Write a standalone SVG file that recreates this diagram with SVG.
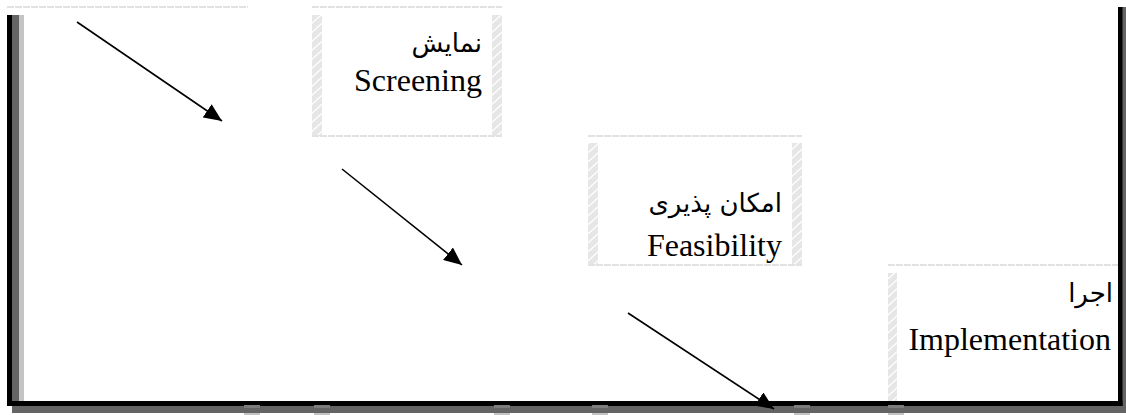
<svg xmlns="http://www.w3.org/2000/svg" width="1126" height="415" viewBox="0 0 1126 415">
<style>
.edge{stroke:#e2e2e2;stroke-width:2;stroke-dasharray:7 1;fill:none}
.hatch{fill:url(#hp)}
.en{font-family:"Liberation Serif","Times New Roman",serif;font-size:32px;fill:#000;text-anchor:end}
.fa{font-family:"DejaVu Sans","Liberation Serif",sans-serif;font-size:26px;fill:#000;text-anchor:end}
.conn{stroke:#000;stroke-width:1.6;fill:none;marker-end:url(#ah)}
.blk{fill:#000}
.dk{fill:#646464}
.lt{fill:#c4c4c4}
.pt{fill:#7c7c7c}
</style>
<defs>
<pattern id="hp" patternUnits="userSpaceOnUse" width="10" height="9">
<rect width="10" height="9" fill="#e6e6e6"/>
<path d="M-2,9 L10,-2 M-2,18 L10,7" stroke="#ffffff" stroke-width="1.3"/>
</pattern>
<marker id="ah" markerUnits="userSpaceOnUse" markerWidth="20" markerHeight="16" refX="18" refY="8" orient="auto">
<path d="M0,0 L18,8 L0,16 Z" fill="#000"/>
</marker>
</defs>
<rect width="1126" height="415" fill="#fff"/>

<g id="node-start">
<line class="edge" x1="7" y1="7" x2="248" y2="7"/>
</g>

<g id="node-screening">
<line class="edge" x1="312" y1="7" x2="502" y2="7"/>
<rect class="hatch" x="312" y="15" width="10" height="121"/>
<rect class="hatch" x="492" y="15" width="10" height="121"/>
<line class="edge" x1="312" y1="136" x2="502" y2="136"/>
<text class="fa" x="482" y="52">نمایش</text>
<text class="en" x="482" y="91">Screening</text>
</g>

<g id="node-feasibility">
<line class="edge" x1="588" y1="136" x2="802" y2="136"/>
<rect class="hatch" x="588" y="143" width="10" height="122"/>
<rect class="hatch" x="792" y="143" width="10" height="122"/>
<line class="edge" x1="588" y1="265" x2="802" y2="265"/>
<text class="fa" x="782" y="212">امکان پذیری</text>
<text class="en" x="782" y="256">Feasibility</text>
</g>

<g id="node-implementation">
<line class="edge" x1="888" y1="265" x2="1118" y2="265"/>
<rect class="hatch" x="888" y="273" width="9" height="128"/>
<text class="fa" x="1113" y="302">اجرا</text>
<text class="en" x="1111" y="350">Implementation</text>
</g>

<g id="frame">
<rect class="lt" x="19" y="15" width="5" height="386"/>
<rect class="dk" x="12" y="15" width="7" height="398"/>
<rect class="blk" x="7" y="15" width="5" height="391"/>
<rect class="dk" x="1122" y="7" width="4" height="406"/>
<rect class="blk" x="1118" y="7" width="4.5" height="399"/>
<rect class="dk" x="12" y="406" width="1114" height="7"/>
<rect class="blk" x="7" y="401" width="1115.5" height="5"/>
<g>
<rect class="pt" x="244" y="405" width="16" height="3"/><rect class="lt" x="244" y="413" width="16" height="2"/>
<rect class="pt" x="314" y="405" width="16" height="3"/><rect class="lt" x="314" y="413" width="16" height="2"/>
<rect class="pt" x="494" y="405" width="16" height="3"/><rect class="lt" x="494" y="413" width="16" height="2"/>
<rect class="pt" x="592" y="405" width="16" height="3"/><rect class="lt" x="592" y="413" width="16" height="2"/>
<rect class="pt" x="794" y="405" width="16" height="3"/><rect class="lt" x="794" y="413" width="16" height="2"/>
<rect class="pt" x="888" y="405" width="16" height="3"/><rect class="lt" x="888" y="413" width="16" height="2"/>
</g>
</g>

<g id="connectors">
<line class="conn" x1="77" y1="22" x2="222" y2="121"/>
<line class="conn" x1="342" y1="169" x2="462" y2="265"/>
<line class="conn" x1="628" y1="313" x2="774" y2="409"/>
</g>
</svg>
